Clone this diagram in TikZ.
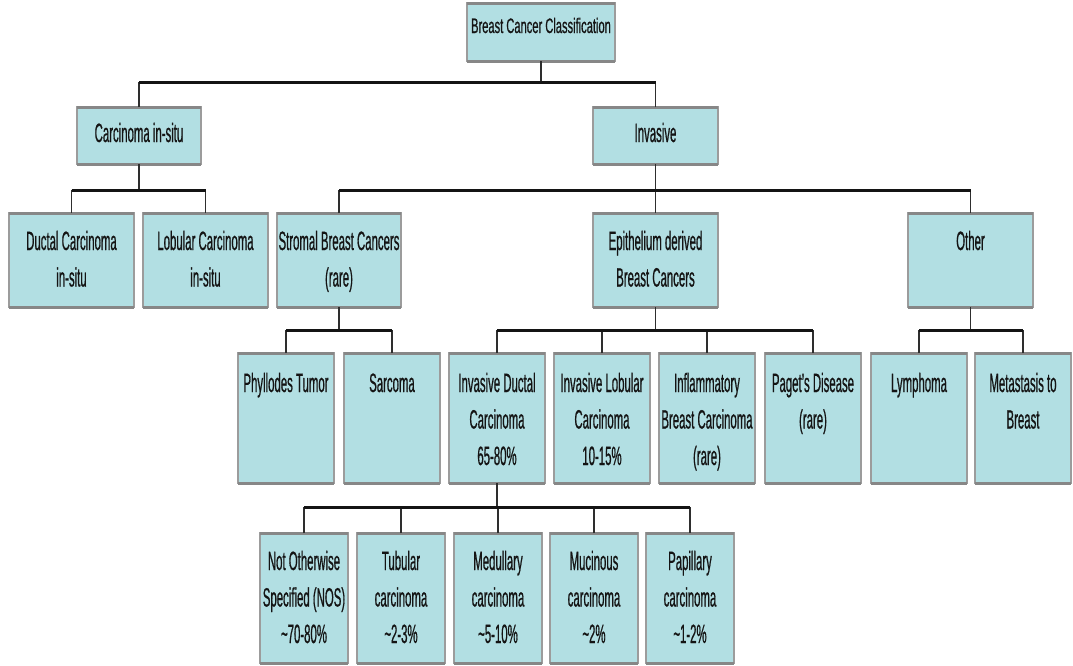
\documentclass[tikz,border=0pt]{standalone}
\usepackage{fontspec}
\setmainfont{Liberation Sans}[FakeStretch=0.43,FakeBold=0.6]
\newfontfamily\rootfont{Liberation Sans}[FakeStretch=0.53,FakeBold=0.6]
\definecolor{boxfill}{HTML}{B2DFE3}
\definecolor{boxedge}{HTML}{9C9C9C}
\definecolor{bandedge}{HTML}{878787}
\definecolor{linecol}{HTML}{2E2E2E}
\newcommand\bxt[4]{\parbox[b][#2pt][t]{#1pt}{\centering\fontsize{26.5}{36.5}\selectfont\parskip=0pt\rule{0pt}{#3pt}#4}}
\tikzset{
  box/.style={draw=boxedge, line width=1.2pt, fill=boxfill, inner sep=0pt, outer sep=0pt, anchor=north west, text=black!92},
  bus/.style={draw=black!92, line width=3pt},
  drop/.style={draw=linecol, line width=1.9pt},
  band/.style={draw=bandedge, line width=3pt},
}
\begin{document}
\begin{tikzpicture}[x=1pt,y=-1pt]
\useasboundingbox[fill=white] (0,0) rectangle (1073,665);
% level 1
\node[box] (root) at (467,3) {\parbox[b][58pt][t]{148pt}{\centering\rootfont\fontsize{21}{25}\selectfont\rule{0pt}{30pt}Breast Cancer Classification}};
% level 2
\node[box] (carc) at (77,107) {\bxt{124}{57}{35}{Carcinoma in-situ}};
\node[box] (inv) at (593,107) {\bxt{125}{57}{35}{Invasive}};
% level 3
\node[box] (ductal) at (9,213) {\bxt{125}{94}{37}{Ductal Carcinoma\\in-situ}};
\node[box] (lobular) at (143,213) {\bxt{125}{94}{37}{Lobular Carcinoma\\in-situ}};
\node[box] (stromal) at (277,213) {\bxt{124}{94}{37}{Stromal Breast Cancers\\(rare)}};
\node[box] (epith) at (593,213) {\bxt{125}{94}{37}{Epithelium derived\\Breast Cancers}};
\node[box] (other) at (908,213) {\bxt{125}{94}{37}{Other}};
% level 4
\node[box] (phyl) at (238,353) {\bxt{96}{130}{39}{Phyllodes Tumor}};
\node[box] (sarc) at (344,353) {\bxt{96}{130}{39}{Sarcoma}};
\node[box] (idc) at (449,353) {\bxt{96}{130}{39}{Invasive Ductal\\Carcinoma\\65-80\%}};
\node[box] (ilc) at (554,353) {\bxt{96}{130}{39}{Invasive Lobular\\Carcinoma\\10-15\%}};
\node[box] (infl) at (659,353) {\bxt{96}{130}{39}{Inflammatory\\Breast Carcinoma\\(rare)}};
\node[box] (paget) at (765,353) {\bxt{96}{130}{39}{Paget's Disease\\(rare)}};
\node[box] (lymph) at (871,353) {\bxt{96}{130}{39}{Lymphoma}};
\node[box] (meta) at (975,353) {\bxt{96}{130}{39}{Metastasis to\\Breast}};
% level 5
\node[box] (nos) at (260,533) {\bxt{88}{130}{37}{Not Otherwise\\Specified (NOS)\\\textasciitilde70-80\%}};
\node[box] (tub) at (357,533) {\bxt{88}{130}{37}{Tubular\\carcinoma\\\textasciitilde2-3\%}};
\node[box] (med) at (454,533) {\bxt{88}{130}{37}{Medullary\\carcinoma\\\textasciitilde5-10\%}};
\node[box] (muc) at (550,533) {\bxt{88}{130}{37}{Mucinous\\carcinoma\\\textasciitilde2\%}};
\node[box] (pap) at (646,533) {\bxt{88}{130}{37}{Papillary\\carcinoma\\\textasciitilde1-2\%}};
% top/bottom bands
\foreach \n in {root,carc,inv,ductal,lobular,stromal,epith,other,phyl,sarc,idc,ilc,infl,paget,lymph,meta,nos,tub,med,muc,pap}{
  \draw[band] (\n.north west) -- (\n.north east);
  \draw[band] (\n.south west) -- (\n.south east);
}
% bus coordinates
\coordinate (b1) at (0,82);
\coordinate (b2) at (0,190);
\coordinate (b4) at (0,330);
\coordinate (b5) at (0,507);
% root -> level 2
\draw[drop] (root.south) -- (root.south |- b1);
\foreach \c in {carc,inv} \draw[drop] (\c.north) -- (\c.north |- b1);
\draw[bus] (b1 -| carc.north) -- (b1 -| inv.north);
% carcinoma in-situ
\draw[drop] (carc.south) -- (carc.south |- b2);
\foreach \c in {ductal,lobular} \draw[drop] (\c.north) -- (\c.north |- b2);
\draw[bus] (b2 -| ductal.north) -- (b2 -| lobular.north);
% invasive
\draw[drop] (inv.south) -- (inv.south |- b2);
\foreach \c in {stromal,epith,other} \draw[drop] (\c.north) -- (\c.north |- b2);
\draw[bus] (b2 -| stromal.north) -- (b2 -| other.north);
% stromal
\draw[drop] (stromal.south) -- (stromal.south |- b4);
\foreach \c in {phyl,sarc} \draw[drop] (\c.north) -- (\c.north |- b4);
\draw[bus] (b4 -| phyl.north) -- (b4 -| sarc.north);
% epithelium
\draw[drop] (epith.south) -- (epith.south |- b4);
\foreach \c in {idc,ilc,infl,paget} \draw[drop] (\c.north) -- (\c.north |- b4);
\draw[bus] (b4 -| idc.north) -- (b4 -| paget.north);
% other
\draw[drop] (other.south) -- (other.south |- b4);
\foreach \c in {lymph,meta} \draw[drop] (\c.north) -- (\c.north |- b4);
\draw[bus] (b4 -| lymph.north) -- (b4 -| meta.north);
% invasive ductal
\draw[drop] (idc.south) -- (idc.south |- b5);
\foreach \c in {nos,tub,med,muc,pap} \draw[drop] (\c.north) -- (\c.north |- b5);
\draw[bus] (b5 -| nos.north) -- (b5 -| pap.north);
\end{tikzpicture}
\end{document}
